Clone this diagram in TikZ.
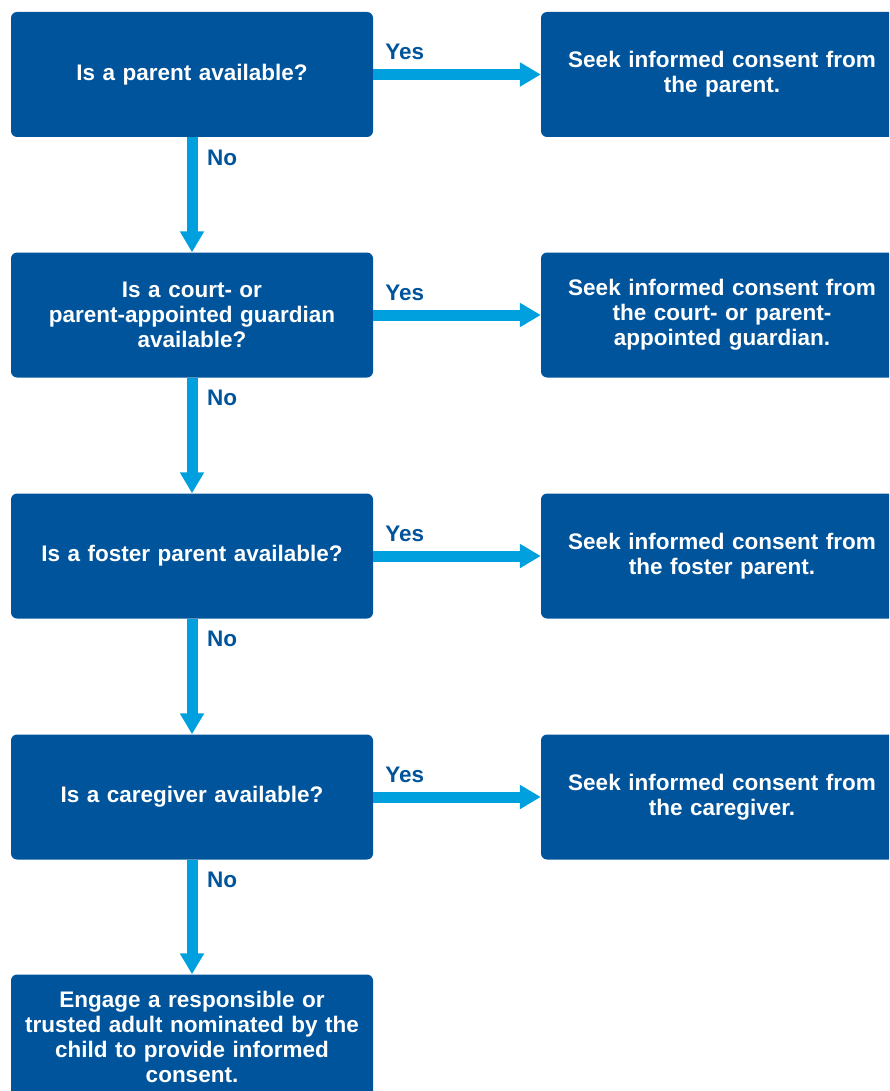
\documentclass[tikz,border=0pt]{standalone}
\usepackage{fontspec}
\setmainfont{Liberation Sans}
\usetikzlibrary{arrows.meta}
\definecolor{boxblue}{RGB}{0,84,155}
\definecolor{arrblue}{RGB}{0,160,223}
\tikzset{
  box/.style={draw=none, fill=boxblue, rounded corners=6pt, minimum width=362pt, minimum height=125pt,
    text width=350pt, align=center, text=white, font=\fontsize{22.5}{25}\selectfont\bfseries, inner sep=0pt},
  arr/.style={draw=arrblue, line width=11pt, -{Triangle[width=23pt,length=21pt]}},
  lbl/.style={text=boxblue, font=\fontsize{22.5}{25}\selectfont\bfseries, inner sep=0pt}
}
\begin{document}
\begin{tikzpicture}[x=1pt,y=1pt]
\useasboundingbox (0,0) rectangle (889,-1091);
\clip (0,0) rectangle (889,-1091);
% left column
\node[box] (q1) at (192,-74.5) {Is a parent available?};
\node[box] (q2) at (192,-315) {Is a court- or\\parent-appointed guardian\\available?};
\node[box] (q3) at (192,-556) {Is a foster parent available?};
\node[box] (q4) at (192,-797) {Is a caregiver available?};
\node[box] (q5) at (192,-1037) {Engage a responsible or\\trusted adult nominated by the\\child to provide informed\\consent.};
% right column
\node[box] (r1) at (722,-74.5) {Seek informed consent from\\the parent.};
\node[box] (r2) at (722,-315) {Seek informed consent from\\the court- or parent-\\appointed guardian.};
\node[box] (r3) at (722,-556) {Seek informed consent from\\the foster parent.};
\node[box] (r4) at (722,-797) {Seek informed consent from\\the caregiver.};
% yes arrows
\foreach \i in {1,2,3,4}{
  \draw[arr] (q\i.east) -- (r\i.west);
  \node[lbl, anchor=base west] (y\i) at ([xshift=12pt,yshift=15pt]q\i.east) {Yes};
}
% no arrows
\foreach \i/\j in {1/2,2/3,3/4,4/5}{
  \draw[arr] (q\i.south) -- (q\j.north);
  \node[lbl, anchor=base west] (n\i) at ([xshift=15pt,yshift=-28pt]q\i.south) {No};
}
\end{tikzpicture}
\end{document}
